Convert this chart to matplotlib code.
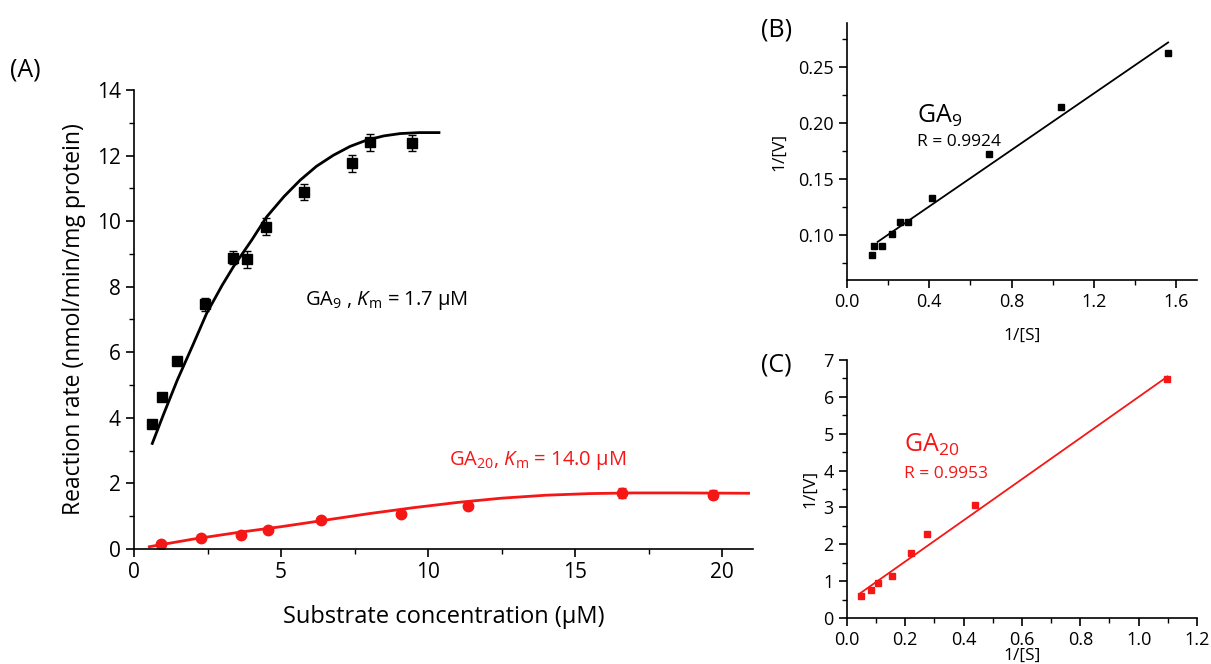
import numpy as np
import matplotlib.pyplot as plt
from matplotlib.ticker import MultipleLocator

plt.rcParams['font.family'] = ['Open Sans', 'DejaVu Sans']
plt.rcParams['mathtext.fontset'] = 'custom'
plt.rcParams['mathtext.rm'] = 'Open Sans'
plt.rcParams['mathtext.it'] = 'Open Sans:italic'

# Panel A - GA9 saturation data
ga9_s = [0.62, 0.95, 1.47, 2.41, 3.38, 3.84, 4.49, 5.78, 7.40, 8.03, 9.44]
ga9_v = [3.81, 4.63, 5.74, 7.46, 8.88, 8.83, 9.83, 10.89, 11.76, 12.40, 12.38]
ga9_err = [0.1, 0.1, 0.1, 0.2, 0.2, 0.25, 0.25, 0.25, 0.25, 0.25, 0.25]
ga9_fit_s = [0.62, 1.0, 1.47, 2.0, 2.47, 3.0, 3.38, 4.0, 4.51, 5.1, 5.65, 6.2, 6.78, 7.35, 7.91, 8.5, 9.05, 9.7, 10.37]
ga9_fit_v = [3.22, 4.10, 5.15, 6.22, 7.19, 8.05, 8.61, 9.42, 10.13, 10.75, 11.25, 11.67, 12.01, 12.28, 12.47, 12.60, 12.67, 12.70, 12.70]

# Panel A - GA20 saturation data
ga20_s = [0.91, 2.28, 3.64, 4.55, 6.36, 9.08, 11.37, 16.6, 19.7]
ga20_v = [0.15, 0.34, 0.43, 0.58, 0.87, 1.07, 1.32, 1.72, 1.66]
ga20_err = [0.05, 0.05, 0.05, 0.05, 0.05, 0.08, 0.08, 0.15, 0.15]
ga20_fit_s = [0.52, 2.0, 3.5, 5.0, 6.5, 8.0, 9.5, 11.0, 12.5, 14.0, 15.5, 17.0, 18.5, 20.9]
ga20_fit_v = [0.07, 0.30, 0.50, 0.68, 0.88, 1.08, 1.26, 1.42, 1.55, 1.64, 1.69, 1.71, 1.71, 1.70]

# Panel B - GA9 double reciprocal
b_x = [0.120, 0.133, 0.168, 0.220, 0.257, 0.296, 0.414, 0.691, 1.042, 1.560]
b_y = [0.082, 0.0905, 0.0905, 0.101, 0.112, 0.1116, 0.133, 0.1726, 0.214, 0.262]
b_line_x = [0.149, 1.560]
b_line_y = [0.094, 0.2717]

# Panel C - GA20 double reciprocal
c_x = [0.047, 0.084, 0.105, 0.156, 0.219, 0.274, 0.439, 1.099]
c_y = [0.60, 0.76, 0.95, 1.15, 1.75, 2.29, 3.07, 6.49]
c_line_x = [0.047, 1.099]
c_line_y = [0.68, 6.55]

RED = '#f51616'

fig = plt.figure(figsize=(12.11, 6.64), dpi=100)


def style_axis(ax, labelsize):
    for side in ['top', 'right']:
        ax.spines[side].set_visible(False)
    for side in ['left', 'bottom']:
        ax.spines[side].set_linewidth(1.2)
    ax.tick_params(which='major', direction='out', length=6, width=1.2, labelsize=labelsize)
    ax.tick_params(which='minor', direction='out', length=3.5, width=1.0)


# (A)
axA = fig.add_axes([0.1107, 0.1732, 0.5111, 0.6913])
axA.errorbar(ga9_s, ga9_v, yerr=ga9_err, fmt='s', color='black', ms=7.5,
             capsize=3, elinewidth=1, capthick=1)
axA.plot(ga9_fit_s, ga9_fit_v, color='black', lw=2)
axA.errorbar(ga20_s, ga20_v, yerr=ga20_err, fmt='o', color=RED, ms=7.5,
             capsize=3, elinewidth=1, capthick=1)
axA.plot(ga20_fit_s, ga20_fit_v, color=RED, lw=2)
axA.set_xlim(0, 21.05)
axA.set_ylim(0, 14)
axA.xaxis.set_major_locator(MultipleLocator(5))
axA.xaxis.set_minor_locator(MultipleLocator(2.5))
axA.yaxis.set_major_locator(MultipleLocator(2))
axA.yaxis.set_minor_locator(MultipleLocator(1))
style_axis(axA, 15)
axA.set_xlabel('Substrate concentration (μM)', fontsize=17, labelpad=16)
axA.set_ylabel('Reaction rate (nmol/min/mg protein)', fontsize=16.5, labelpad=8)
axA.text(5.8, 7.45, r'GA$_9$ , $K$$_\mathrm{m}$ = 1.7 μM', fontsize=14.5, color='black')
axA.text(10.7, 2.55, r'GA$_{20}$, $K$$_\mathrm{m}$ = 14.0 μM', fontsize=14.5, color=RED)
fig.text(0.008, 0.885, '(A)', fontsize=18)

# (B)
axB = fig.add_axes([0.6994, 0.5783, 0.289, 0.387])
axB.plot(b_x, b_y, 's', color='black', ms=4.5)
axB.plot(b_line_x, b_line_y, color='black', lw=1.3)
axB.set_xlim(0, 1.70)
axB.set_ylim(0.06, 0.289)
axB.xaxis.set_major_locator(MultipleLocator(0.4))
axB.xaxis.set_minor_locator(MultipleLocator(0.2))
axB.yaxis.set_major_locator(MultipleLocator(0.05))
axB.yaxis.set_minor_locator(MultipleLocator(0.025))
style_axis(axB, 13)
axB.set_xlabel('1/[S]', fontsize=12.5, labelpad=12)
axB.set_ylabel('1/[V]', fontsize=12.5, labelpad=8)
axB.text(0.34, 0.2, r'GA$_9$', fontsize=18)
axB.text(0.34, 0.1795, 'R = 0.9924', fontsize=12.5)
fig.text(0.628, 0.945, '(B)', fontsize=18)

# (C)
axC = fig.add_axes([0.6994, 0.0693, 0.289, 0.3886])
axC.plot(c_x, c_y, 's', color=RED, ms=4.5)
axC.plot(c_line_x, c_line_y, color=RED, lw=1.3)
axC.set_xlim(0, 1.2)
axC.set_ylim(0, 7)
axC.xaxis.set_major_locator(MultipleLocator(0.2))
axC.xaxis.set_minor_locator(MultipleLocator(0.1))
axC.yaxis.set_major_locator(MultipleLocator(1))
axC.yaxis.set_minor_locator(MultipleLocator(0.5))
style_axis(axC, 13)
axC.xaxis.set_major_formatter(plt.FuncFormatter(lambda v, p: f'{v:.1f}'))
axC.set_xlabel('1/[S]', fontsize=12.5, labelpad=-1)
axC.set_ylabel('1/[V]', fontsize=12.5, labelpad=4)
axC.text(0.195, 4.5, r'GA$_{20}$', fontsize=18, color=RED)
axC.text(0.195, 3.8, 'R = 0.9953', fontsize=12.5, color=RED)
fig.text(0.628, 0.44, '(C)', fontsize=18)

fig.savefig('out.png', dpi=100)
